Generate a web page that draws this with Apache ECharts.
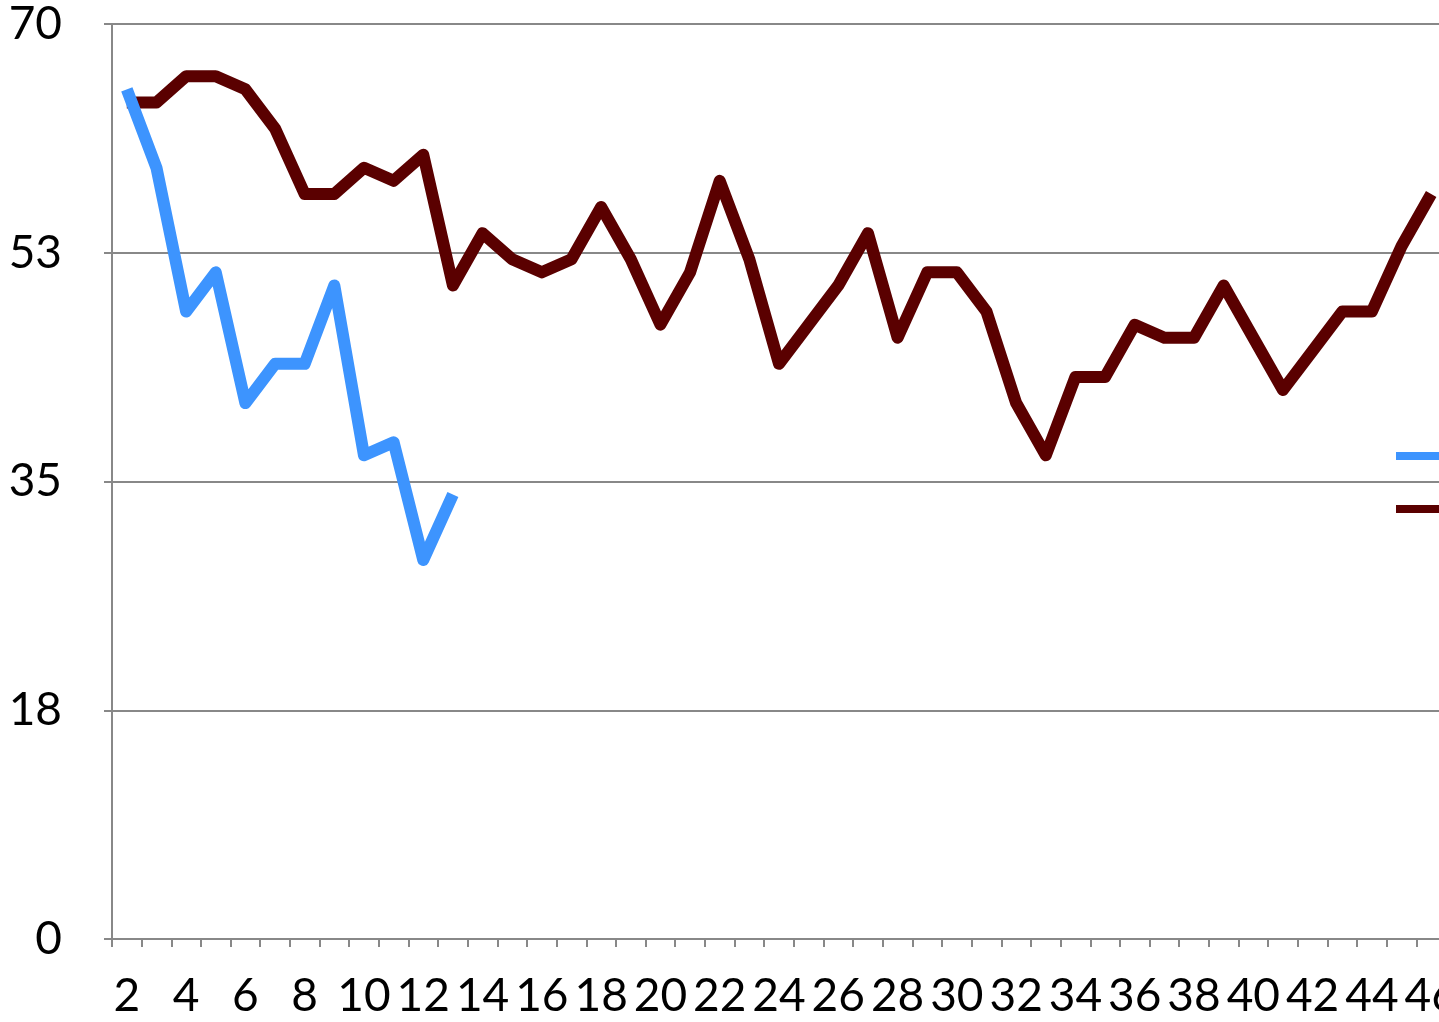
<!DOCTYPE html>
<html>
<head>
<meta charset="utf-8">
<script src="https://cdn.jsdelivr.net/npm/echarts@6/dist/echarts.min.js"></script>
<style>
  html, body { margin: 0; padding: 0; overflow: hidden; background: #fff; }
  #myChart { width: 1600px; height: 1022px; }
</style>
</head>
<body>
<div id="myChart"></div>
<script>
// categories 2..46
const categories = ['2', '3', '4', '5', '6', '7', '8', '9', '10', '11', '12', '13', '14', '15', '16',
  '17', '18', '19', '20', '21', '22', '23', '24', '25', '26', '27', '28', '29', '30', '31',
  '32', '33', '34', '35', '36', '37', '38', '39', '40', '41', '42', '43', '44', '45', '46']
const seriesNames = ['Series 1', 'Series 2']
const blueValues = [65, 59, 48, 51, 41, 44, 44, 50, 37, 38, 29, 34]
const brownValues = [64, 64, 66, 66, 65, 62, 57, 57, 59, 58, 60, 50, 54, 52, 51, 52, 56, 52, 47, 51,
  58, 52, 44, 47, 50, 54, 46, 51, 51, 48, 41, 37, 43, 43, 47, 46, 46, 50, 46, 42, 45, 48, 48, 53, 57]
const yMin = 0
const yMax = 70
const yStep = 17.5

const gray = '#888888'
const font = 'Lato'

const chart = echarts.init(document.getElementById('myChart'))
chart.setOption({
  animation: false,
  color: ['#3d94fe', '#5a0000'],
  grid: {
    left: 112,
    top: 24,
    width: 1334,
    height: 915,
    containLabel: false
  },
  legend: {
    data: seriesNames,
    orient: 'vertical',
    left: 1396,
    top: 446,
    padding: 0,
    icon: 'rect',
    itemWidth: 46,
    itemHeight: 8,
    itemGap: 33,
    textStyle: {
      fontFamily: font,
      fontSize: 20,
      color: '#000'
    }
  },
  xAxis: {
    type: 'category',
    data: categories,
    boundaryGap: true,
    axisLine: {
      lineStyle: { color: gray, width: 2 }
    },
    axisTick: {
      show: true,
      interval: 0,
      alignWithLabel: false,
      inside: false,
      length: 8,
      lineStyle: { color: gray, width: 2 }
    },
    axisLabel: {
      interval: 1,
      margin: 34,
      fontFamily: font,
      fontSize: 46,
      color: '#000'
    },
    splitLine: { show: false }
  },
  yAxis: {
    type: 'value',
    min: yMin,
    max: yMax,
    interval: yStep,
    axisLine: {
      show: true,
      lineStyle: { color: gray, width: 2 }
    },
    axisTick: {
      show: true,
      length: 8,
      lineStyle: { color: gray, width: 2 }
    },
    axisLabel: {
      margin: 50,
      fontFamily: font,
      fontSize: 46,
      color: '#000',
      formatter(v) {
        return String(Math.round(v))
      }
    },
    splitLine: {
      lineStyle: { color: gray, width: 2 }
    }
  },
  series: [
    {
      name: seriesNames[0],
      type: 'line',
      data: blueValues,
      showSymbol: false,
      z: 3,
      lineStyle: { width: 12, join: 'round', cap: 'butt' }
    },
    {
      name: seriesNames[1],
      type: 'line',
      data: brownValues,
      showSymbol: false,
      z: 2,
      lineStyle: { width: 12, join: 'round', cap: 'butt' }
    }
  ]
})
</script>
</body>
</html>
